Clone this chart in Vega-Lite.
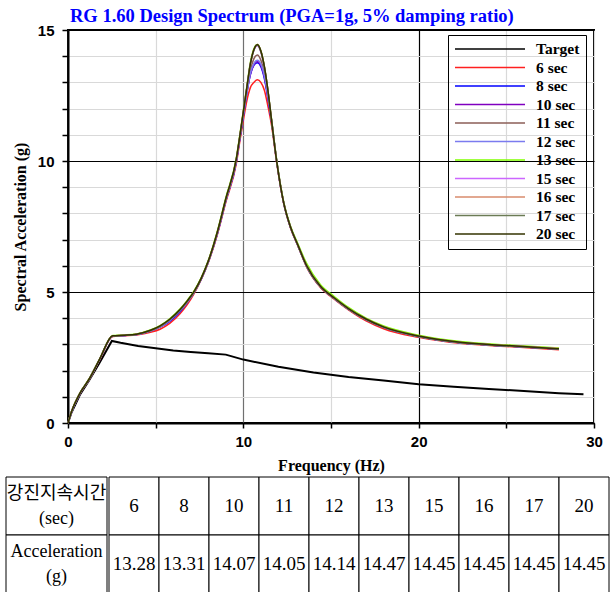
{
  "$schema": "https://vega.github.io/schema/vega-lite/v6.json",
  "background": "white",
  "padding": {"left": 5, "top": 5, "right": 3, "bottom": 0},
  "datasets": {
    "target": [
      {"s": "Target", "f": 0, "a": 0}, {"s": "Target", "f": 0.2, "a": 0.4}, {"s": "Target", "f": 0.7, "a": 1.1}, {"s": "Target", "f": 1.2, "a": 1.62}, {"s": "Target", "f": 1.8, "a": 2.3},
      {"s": "Target", "f": 2.5, "a": 3.13}, {"s": "Target", "f": 3, "a": 3.06}, {"s": "Target", "f": 4, "a": 2.94}, {"s": "Target", "f": 5, "a": 2.85}, {"s": "Target", "f": 6, "a": 2.77},
      {"s": "Target", "f": 7, "a": 2.71}, {"s": "Target", "f": 8, "a": 2.66}, {"s": "Target", "f": 9, "a": 2.61}, {"s": "Target", "f": 10, "a": 2.42}, {"s": "Target", "f": 12, "a": 2.15},
      {"s": "Target", "f": 14, "a": 1.93}, {"s": "Target", "f": 16, "a": 1.76}, {"s": "Target", "f": 18, "a": 1.62}, {"s": "Target", "f": 20, "a": 1.48}, {"s": "Target", "f": 22, "a": 1.38},
      {"s": "Target", "f": 24, "a": 1.3}, {"s": "Target", "f": 26, "a": 1.22}, {"s": "Target", "f": 28, "a": 1.14}, {"s": "Target", "f": 29.4, "a": 1.1}
    ],
    "runs": [
      {"f": 0, "6 sec": 0, "8 sec": 0, "10 sec": 0, "11 sec": 0, "12 sec": 0, "13 sec": 0, "15 sec": 0, "16 sec": 0, "17 sec": 0, "20 sec": 0},
      {"f": 0.2, "6 sec": 0.42, "8 sec": 0.41, "10 sec": 0.42, "11 sec": 0.43, "12 sec": 0.42, "13 sec": 0.44, "15 sec": 0.42, "16 sec": 0.43, "17 sec": 0.42, "20 sec": 0.43},
      {"f": 0.7, "6 sec": 1.14, "8 sec": 1.15, "10 sec": 1.15, "11 sec": 1.16, "12 sec": 1.15, "13 sec": 1.17, "15 sec": 1.15, "16 sec": 1.16, "17 sec": 1.15, "20 sec": 1.16},
      {"f": 1.2, "6 sec": 1.65, "8 sec": 1.66, "10 sec": 1.66, "11 sec": 1.67, "12 sec": 1.66, "13 sec": 1.68, "15 sec": 1.66, "16 sec": 1.67, "17 sec": 1.66, "20 sec": 1.67},
      {"f": 1.8, "6 sec": 2.4, "8 sec": 2.42, "10 sec": 2.42, "11 sec": 2.43, "12 sec": 2.42, "13 sec": 2.44, "15 sec": 2.42, "16 sec": 2.43, "17 sec": 2.42, "20 sec": 2.43},
      {"f": 2.55, "6 sec": 3.3, "8 sec": 3.32, "10 sec": 3.31, "11 sec": 3.33, "12 sec": 3.32, "13 sec": 3.34, "15 sec": 3.32, "16 sec": 3.33, "17 sec": 3.32, "20 sec": 3.33},
      {"f": 3.2, "6 sec": 3.33, "8 sec": 3.34, "10 sec": 3.34, "11 sec": 3.35, "12 sec": 3.34, "13 sec": 3.36, "15 sec": 3.34, "16 sec": 3.35, "17 sec": 3.34, "20 sec": 3.35},
      {"f": 3.9, "6 sec": 3.36, "8 sec": 3.38, "10 sec": 3.38, "11 sec": 3.39, "12 sec": 3.38, "13 sec": 3.4, "15 sec": 3.38, "16 sec": 3.39, "17 sec": 3.38, "20 sec": 3.39},
      {"f": 4.7, "6 sec": 3.46, "8 sec": 3.51, "10 sec": 3.52, "11 sec": 3.53, "12 sec": 3.52, "13 sec": 3.55, "15 sec": 3.52, "16 sec": 3.53, "17 sec": 3.52, "20 sec": 3.54},
      {"f": 5.25, "6 sec": 3.58, "8 sec": 3.66, "10 sec": 3.68, "11 sec": 3.69, "12 sec": 3.67, "13 sec": 3.72, "15 sec": 3.68, "16 sec": 3.7, "17 sec": 3.68, "20 sec": 3.71},
      {"f": 5.8, "6 sec": 3.8, "8 sec": 3.88, "10 sec": 3.92, "11 sec": 3.94, "12 sec": 3.91, "13 sec": 3.98, "15 sec": 3.93, "16 sec": 3.95, "17 sec": 3.93, "20 sec": 3.96},
      {"f": 6.4, "6 sec": 4.18, "8 sec": 4.26, "10 sec": 4.3, "11 sec": 4.32, "12 sec": 4.29, "13 sec": 4.36, "15 sec": 4.31, "16 sec": 4.33, "17 sec": 4.31, "20 sec": 4.34},
      {"f": 6.8, "6 sec": 4.52, "8 sec": 4.6, "10 sec": 4.62, "11 sec": 4.64, "12 sec": 4.61, "13 sec": 4.68, "15 sec": 4.63, "16 sec": 4.65, "17 sec": 4.63, "20 sec": 4.66},
      {"f": 7.2, "6 sec": 4.95, "8 sec": 5.0, "10 sec": 5.0, "11 sec": 5.02, "12 sec": 5.0, "13 sec": 5.05, "15 sec": 5.0, "16 sec": 5.02, "17 sec": 5.0, "20 sec": 5.03},
      {"f": 7.6, "6 sec": 5.48, "8 sec": 5.5, "10 sec": 5.5, "11 sec": 5.52, "12 sec": 5.5, "13 sec": 5.55, "15 sec": 5.5, "16 sec": 5.52, "17 sec": 5.5, "20 sec": 5.53},
      {"f": 8.0, "6 sec": 6.12, "8 sec": 6.15, "10 sec": 6.15, "11 sec": 6.17, "12 sec": 6.15, "13 sec": 6.2, "15 sec": 6.15, "16 sec": 6.17, "17 sec": 6.15, "20 sec": 6.18},
      {"f": 8.5, "6 sec": 7.15, "8 sec": 7.18, "10 sec": 7.2, "11 sec": 7.22, "12 sec": 7.2, "13 sec": 7.28, "15 sec": 7.22, "16 sec": 7.24, "17 sec": 7.22, "20 sec": 7.25},
      {"f": 9.0, "6 sec": 8.42, "8 sec": 8.48, "10 sec": 8.5, "11 sec": 8.52, "12 sec": 8.5, "13 sec": 8.6, "15 sec": 8.52, "16 sec": 8.55, "17 sec": 8.52, "20 sec": 8.56},
      {"f": 9.6, "6 sec": 9.9, "8 sec": 9.98, "10 sec": 10.0, "11 sec": 10.05, "12 sec": 10.0, "13 sec": 10.12, "15 sec": 10.05, "16 sec": 10.07, "17 sec": 10.05, "20 sec": 10.08},
      {"f": 9.8, "6 sec": 10.75, "8 sec": 10.85, "10 sec": 10.88, "11 sec": 10.92, "12 sec": 10.88, "13 sec": 11.0, "15 sec": 10.92, "16 sec": 10.95, "17 sec": 10.92, "20 sec": 10.95},
      {"f": 10.0, "6 sec": 11.55, "8 sec": 11.72, "10 sec": 11.75, "11 sec": 11.8, "12 sec": 11.75, "13 sec": 11.92, "15 sec": 11.85, "16 sec": 11.88, "17 sec": 11.85, "20 sec": 11.88},
      {"f": 10.2, "6 sec": 12.3, "8 sec": 12.6, "10 sec": 12.6, "11 sec": 12.7, "12 sec": 12.6, "13 sec": 12.85, "15 sec": 12.8, "16 sec": 12.8, "17 sec": 12.8, "20 sec": 12.8},
      {"f": 10.4, "6 sec": 12.8, "8 sec": 13.3, "10 sec": 13.3, "11 sec": 13.45, "12 sec": 13.35, "13 sec": 13.75, "15 sec": 13.7, "16 sec": 13.7, "17 sec": 13.7, "20 sec": 13.7},
      {"f": 10.6, "6 sec": 13.0, "8 sec": 13.65, "10 sec": 13.68, "11 sec": 13.9, "12 sec": 13.72, "13 sec": 14.28, "15 sec": 14.22, "16 sec": 14.25, "17 sec": 14.23, "20 sec": 14.25},
      {"f": 10.8, "6 sec": 13.1, "8 sec": 13.75, "10 sec": 13.8, "11 sec": 14.05, "12 sec": 13.85, "13 sec": 14.45, "15 sec": 14.4, "16 sec": 14.45, "17 sec": 14.42, "20 sec": 14.45},
      {"f": 11.0, "6 sec": 13.0, "8 sec": 13.6, "10 sec": 13.65, "11 sec": 13.85, "12 sec": 13.7, "13 sec": 14.2, "15 sec": 14.15, "16 sec": 14.2, "17 sec": 14.18, "20 sec": 14.2},
      {"f": 11.2, "6 sec": 12.7, "8 sec": 13.15, "10 sec": 13.2, "11 sec": 13.35, "12 sec": 13.25, "13 sec": 13.6, "15 sec": 13.55, "16 sec": 13.6, "17 sec": 13.58, "20 sec": 13.6},
      {"f": 11.4, "6 sec": 12.1, "8 sec": 12.4, "10 sec": 12.45, "11 sec": 12.55, "12 sec": 12.5, "13 sec": 12.7, "15 sec": 12.68, "16 sec": 12.7, "17 sec": 12.7, "20 sec": 12.7},
      {"f": 11.6, "6 sec": 11.4, "8 sec": 11.55, "10 sec": 11.6, "11 sec": 11.6, "12 sec": 11.6, "13 sec": 11.65, "15 sec": 11.6, "16 sec": 11.6, "17 sec": 11.6, "20 sec": 11.6},
      {"f": 11.9, "6 sec": 9.95, "8 sec": 10.0, "10 sec": 10.02, "11 sec": 10.0, "12 sec": 10.0, "13 sec": 10.05, "15 sec": 10.0, "16 sec": 10.0, "17 sec": 10.0, "20 sec": 10.0},
      {"f": 12.3, "6 sec": 8.38, "8 sec": 8.4, "10 sec": 8.42, "11 sec": 8.4, "12 sec": 8.4, "13 sec": 8.45, "15 sec": 8.4, "16 sec": 8.41, "17 sec": 8.4, "20 sec": 8.41},
      {"f": 12.7, "6 sec": 7.42, "8 sec": 7.45, "10 sec": 7.46, "11 sec": 7.45, "12 sec": 7.45, "13 sec": 7.5, "15 sec": 7.45, "16 sec": 7.46, "17 sec": 7.45, "20 sec": 7.46},
      {"f": 13.1, "6 sec": 6.78, "8 sec": 6.8, "10 sec": 6.8, "11 sec": 6.8, "12 sec": 6.8, "13 sec": 6.86, "15 sec": 6.8, "16 sec": 6.81, "17 sec": 6.8, "20 sec": 6.81},
      {"f": 13.6, "6 sec": 5.97, "8 sec": 6.0, "10 sec": 6.0, "11 sec": 6.0, "12 sec": 6.0, "13 sec": 6.1, "15 sec": 6.02, "16 sec": 6.02, "17 sec": 6.0, "20 sec": 6.02},
      {"f": 14.4, "6 sec": 5.17, "8 sec": 5.2, "10 sec": 5.2, "11 sec": 5.2, "12 sec": 5.2, "13 sec": 5.28, "15 sec": 5.21, "16 sec": 5.22, "17 sec": 5.2, "20 sec": 5.22},
      {"f": 15.2, "6 sec": 4.72, "8 sec": 4.75, "10 sec": 4.75, "11 sec": 4.75, "12 sec": 4.75, "13 sec": 4.82, "15 sec": 4.76, "16 sec": 4.77, "17 sec": 4.75, "20 sec": 4.77},
      {"f": 16.0, "6 sec": 4.32, "8 sec": 4.35, "10 sec": 4.35, "11 sec": 4.35, "12 sec": 4.35, "13 sec": 4.41, "15 sec": 4.36, "16 sec": 4.37, "17 sec": 4.35, "20 sec": 4.37},
      {"f": 17.0, "6 sec": 3.9, "8 sec": 3.95, "10 sec": 3.95, "11 sec": 3.95, "12 sec": 3.95, "13 sec": 4.0, "15 sec": 3.96, "16 sec": 3.97, "17 sec": 3.95, "20 sec": 3.97},
      {"f": 18.0, "6 sec": 3.6, "8 sec": 3.65, "10 sec": 3.65, "11 sec": 3.65, "12 sec": 3.65, "13 sec": 3.7, "15 sec": 3.66, "16 sec": 3.67, "17 sec": 3.65, "20 sec": 3.67},
      {"f": 20.0, "6 sec": 3.27, "8 sec": 3.3, "10 sec": 3.3, "11 sec": 3.3, "12 sec": 3.3, "13 sec": 3.35, "15 sec": 3.31, "16 sec": 3.32, "17 sec": 3.3, "20 sec": 3.32},
      {"f": 22.5, "6 sec": 3.03, "8 sec": 3.05, "10 sec": 3.05, "11 sec": 3.05, "12 sec": 3.05, "13 sec": 3.1, "15 sec": 3.06, "16 sec": 3.07, "17 sec": 3.05, "20 sec": 3.07},
      {"f": 25.0, "6 sec": 2.92, "8 sec": 2.94, "10 sec": 2.94, "11 sec": 2.94, "12 sec": 2.94, "13 sec": 2.98, "15 sec": 2.95, "16 sec": 2.96, "17 sec": 2.94, "20 sec": 2.96},
      {"f": 28.0, "6 sec": 2.8, "8 sec": 2.82, "10 sec": 2.82, "11 sec": 2.82, "12 sec": 2.82, "13 sec": 2.86, "15 sec": 2.83, "16 sec": 2.84, "17 sec": 2.82, "20 sec": 2.83}
    ],
    "labels": [
      {"r": "a", "t": "강진지속시간\n(sec)"},
      {"r": "b", "t": "Acceleration\n(g)"}
    ],
    "cells": [
      {"c": 6, "r": "a", "t": "6"}, {"c": 8, "r": "a", "t": "8"}, {"c": 10, "r": "a", "t": "10"}, {"c": 11, "r": "a", "t": "11"}, {"c": 12, "r": "a", "t": "12"},
      {"c": 13, "r": "a", "t": "13"}, {"c": 15, "r": "a", "t": "15"}, {"c": 16, "r": "a", "t": "16"}, {"c": 17, "r": "a", "t": "17"}, {"c": 20, "r": "a", "t": "20"},
      {"c": 6, "r": "b", "t": "13.28"}, {"c": 8, "r": "b", "t": "13.31"}, {"c": 10, "r": "b", "t": "14.07"}, {"c": 11, "r": "b", "t": "14.05"}, {"c": 12, "r": "b", "t": "14.14"},
      {"c": 13, "r": "b", "t": "14.47"}, {"c": 15, "r": "b", "t": "14.45"}, {"c": 16, "r": "b", "t": "14.45"}, {"c": 17, "r": "b", "t": "14.45"}, {"c": 20, "r": "b", "t": "14.45"}
    ],
    "blank": [{"t": ""}]
  },
  "columns": 1,
  "spacing": 2,
  "concat": [
    {
      "spacing": 4,
      "hconcat": [
        {
          "width": 1,
          "height": 393,
          "data": {"name": "blank"},
          "mark": {"type": "text"},
          "encoding": {"text": {"field": "t"}}
        },
        {
          "width": 526,
          "height": 393,
          "view": {"stroke": "black", "strokeWidth": 2},
          "title": {
            "text": "RG 1.60 Design Spectrum (PGA=1g, 5% damping ratio)",
            "anchor": "start", "frame": "group", "dx": 2, "dy": 2, "offset": 0,
            "color": "#0000ff", "font": "Liberation Serif", "fontSize": 18.5, "fontWeight": "bold"
          },
          "encoding": {
            "x": {
              "field": "f", "type": "quantitative",
              "scale": {"domain": [0, 30], "nice": false},
              "axis": {
                "title": "Frequency (Hz)",
                "titleFont": "Liberation Serif", "titleFontSize": 16, "titleFontWeight": "bold", "titleColor": "black", "titlePadding": 8,
                "values": [0, 5, 10, 15, 20, 25, 30],
                "labelExpr": "datum.value % 10 == 0 ? datum.label : ''",
                "labelFont": "Liberation Sans", "labelFontSize": 15, "labelFontWeight": "bold", "labelColor": "black",
                "labelPadding": 6, "labelOverlap": false, "labelFlush": false,
                "tickColor": "black", "tickSize": 5, "tickWidth": 1.5,
                "domainColor": "black", "domainWidth": 2,
                "gridColor": {"condition": [{"test": "datum.value == 20", "value": "#000000"}, {"test": "datum.value == 10", "value": "#707070"}], "value": "#d9d9d9"},
                "gridWidth": 1.2
              }
            },
            "y": {
              "field": "a", "type": "quantitative",
              "scale": {"domain": [0, 15], "nice": false},
              "axis": {
                "title": "Spectral Acceleration (g)",
                "titleFont": "Liberation Serif", "titleFontSize": 16, "titleFontWeight": "bold", "titleColor": "black", "titlePadding": 9,
                "values": [0, 1, 2, 3, 4, 5, 6, 7, 8, 9, 10, 11, 12, 13, 14, 15],
                "labelExpr": "datum.value % 5 == 0 ? datum.label : ''",
                "labelFont": "Liberation Sans", "labelFontSize": 15, "labelFontWeight": "bold", "labelColor": "black",
                "labelPadding": 8, "labelOverlap": false, "labelFlush": false,
                "tickColor": "black", "tickSize": 6, "tickWidth": 1.5,
                "domainColor": "black", "domainWidth": 2,
                "gridColor": {"condition": {"test": "datum.value % 5 == 0", "value": "#000000"}, "value": "#d9d9d9"},
                "gridWidth": 1.2
              }
            },
            "color": {
              "field": "s", "type": "nominal",
              "scale": {
                "domain": ["Target", "6 sec", "8 sec", "10 sec", "11 sec", "12 sec", "13 sec", "15 sec", "16 sec", "17 sec", "20 sec"],
                "range": ["#000000", "#ff2020", "#0000ff", "#8000c0", "#8b5e57", "#7b7bef", "#80ff00", "#cc66ff", "#d98b6c", "#6b7b55", "#333300"]
              },
              "legend": {
                "title": null, "orient": "none", "legendX": 442, "legendY": 5,
                "strokeColor": "black", "padding": 6,
                "symbolType": "M-1,0H9", "symbolSize": 196, "symbolStrokeWidth": 1.5,
                "labelFont": "Liberation Serif", "labelFontSize": 15.5, "labelFontWeight": "bold", "labelColor": "black",
                "labelOffset": 66, "rowPadding": 1.5, "labelLimit": 0
              }
            }
          },
          "layer": [
            {
              "data": {"name": "target"},
              "mark": {"type": "line", "strokeWidth": 2}
            },
            {
              "data": {"name": "runs"},
              "transform": [{"fold": ["6 sec", "8 sec", "10 sec", "11 sec", "12 sec", "13 sec", "15 sec", "16 sec", "17 sec", "20 sec"], "as": ["s", "a"]}],
              "mark": {"type": "line", "strokeWidth": 1.5, "interpolate": "monotone"}
            }
          ]
        }
      ]
    },
    {
      "spacing": 0,
      "hconcat": [
        {
          "width": 101,
          "height": 116,
          "data": {"name": "labels"},
          "encoding": {
            "y": {"field": "r", "type": "nominal", "axis": null, "scale": {"paddingInner": 0, "paddingOuter": 0}}
          },
          "layer": [
            {"mark": {"type": "rect", "fill": "white", "stroke": "black", "strokeWidth": 1}},
            {
              "mark": {"type": "text", "lineBreak": "\n", "font": "Liberation Serif, Noto Sans CJK KR", "fontSize": 18, "lineHeight": 25, "dy": -12.5, "color": "black"},
              "encoding": {"text": {"field": "t"}}
            }
          ]
        },
        {
          "width": 500,
          "height": 116,
          "data": {"name": "cells"},
          "encoding": {
            "x": {"field": "c", "type": "ordinal", "axis": null, "scale": {"paddingInner": 0, "paddingOuter": 0}},
            "y": {"field": "r", "type": "nominal", "axis": null, "scale": {"paddingInner": 0, "paddingOuter": 0}}
          },
          "layer": [
            {"mark": {"type": "rect", "fill": "white", "stroke": "black", "strokeWidth": 1}},
            {
              "mark": {"type": "text", "font": "Liberation Serif", "fontSize": 19, "color": "black"},
              "encoding": {"text": {"field": "t"}}
            }
          ]
        }
      ]
    }
  ],
  "config": {
    "view": {"stroke": null}
  }
}
